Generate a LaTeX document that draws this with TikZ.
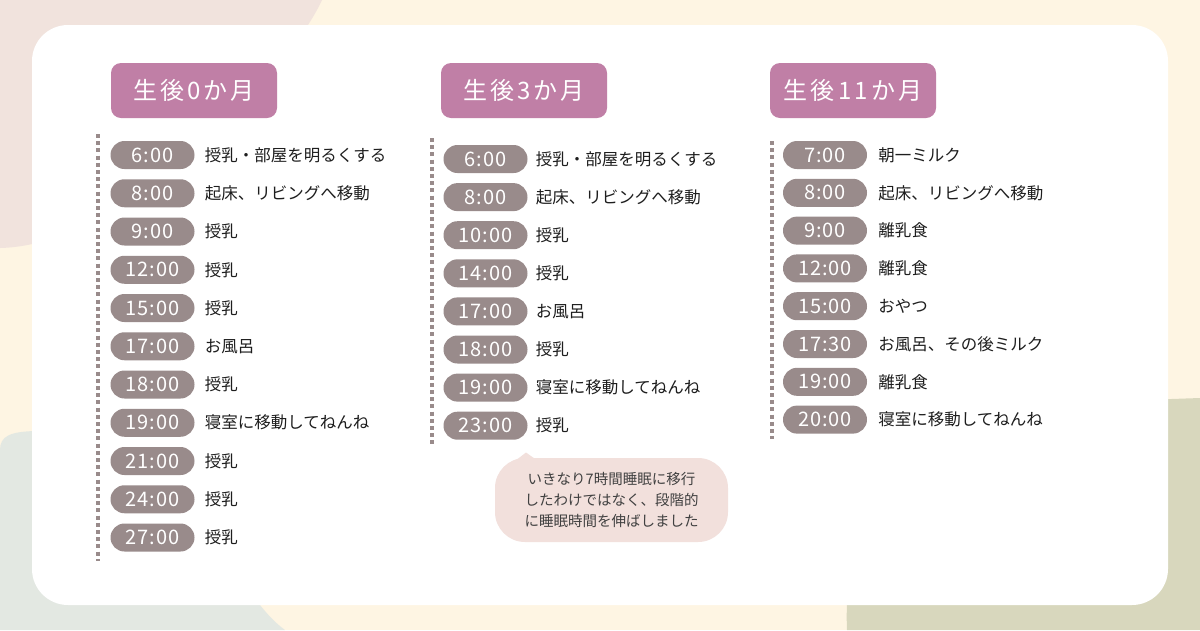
\documentclass[tikz,border=0pt]{standalone}
\usepackage{fontspec}
\setmainfont{Noto Sans CJK JP}
\usetikzlibrary{positioning}
\definecolor{bgcream}{HTML}{FEF5E3}
\definecolor{blobpink}{HTML}{F1E3DD}
\definecolor{blobsage}{HTML}{E3E8E2}
\definecolor{blobolive}{HTML}{D8D7BD}
\definecolor{titlemauve}{HTML}{C07FA6}
\definecolor{pilltaupe}{HTML}{998B8B}
\definecolor{notepink}{HTML}{F2E0DC}
\definecolor{inktext}{HTML}{1E1E1E}
\tikzset{
  month/.style={fill=titlemauve, rounded corners=10pt, minimum width=166pt, minimum height=55pt,
    inner sep=0pt, text=white, font=\fontsize{24}{28}\selectfont\addfontfeatures{LetterSpace=13}},
  clock/.style={fill=pilltaupe, rounded corners=14pt, minimum width=84pt, minimum height=28pt,
    inner sep=0pt, text=white, font=\fontsize{20}{24}\selectfont\addfontfeatures{LetterSpace=5}},
  act/.style={text=inktext, inner sep=0pt, anchor=west, font=\fontsize{16.5}{20}\selectfont},
  rail/.style={pilltaupe, line width=4pt, dash pattern=on 4pt off 3.2pt},
  note/.style={fill=notepink, rounded corners=30pt, minimum width=233pt, minimum height=84pt,
    align=center, text=inktext!85, font=\fontsize{14.5}{21}\selectfont}
}
\begin{document}
\begin{tikzpicture}[x=1pt,y=-1pt]
\useasboundingbox (0,0) rectangle (1200,630);
% background
\fill[bgcream] (0,0) rectangle (1200,630);
\fill[blobpink] (0,0) -- (322,0) .. controls (290,70) and (130,245) .. (0,248) -- cycle;
\fill[blobsage] (0,630) -- (0,450) .. controls (0,436) and (10,431) .. (40,431) -- (140,431)
  .. controls (200,470) and (230,590) .. (285,630) -- cycle;
\fill[blobolive] (847,630) .. controls (843,540) and (880,420) .. (1000,405) -- (1200,398) -- (1200,630) -- cycle;
\fill[white, rounded corners=36pt] (32,25) rectangle (1168,605);

% 0 months
\node[month] (m1) at (194,90.5) {生後0か月};
\coordinate (r1a) at (98,134);
\coordinate (r1b) at (98,561);
\draw[rail] (r1a) -- (r1b);
\foreach \hh/\txt [count=\i] in {6:00/授乳・部屋を明るくする, 8:00/起床、リビングへ移動, 9:00/授乳,
    12:00/授乳, 15:00/授乳, 17:00/お風呂, 18:00/授乳, 19:00/寝室に移動してねんね,
    21:00/授乳, 24:00/授乳, 27:00/授乳} {
  \node[clock] (p1-\i) at (152.5,{155+38.25*(\i-1)}) {\hh};
  \node[act, right=10pt of p1-\i] (a1-\i) {\txt};
}

% 3 months
\node[month] (m2) at (524,90.5) {生後3か月};
\coordinate (r2a) at (432,138);
\coordinate (r2b) at (432,445);
\draw[rail] (r2a) -- (r2b);
\foreach \hh/\txt [count=\i] in {6:00/授乳・部屋を明るくする, 8:00/起床、リビングへ移動, 10:00/授乳,
    14:00/授乳, 17:00/お風呂, 18:00/授乳, 19:00/寝室に移動してねんね, 23:00/授乳} {
  \node[clock] (p2-\i) at (485.5,{159+38.1*(\i-1)}) {\hh};
  \node[act, right=8pt of p2-\i] (a2-\i) {\txt};
}
\node[note] (tip) at (611.5,500) {いきなり7時間睡眠に移行\\したわけではなく、段階的\\に睡眠時間を伸ばしました};
\coordinate (tail) at (526,452.5);
\fill[notepink] (tail) -- (515,461) -- (538,461) -- cycle;

% 11 months
\node[month] (m3) at (853,90.5) {生後11か月};
\coordinate (r3a) at (772,141);
\coordinate (r3b) at (772,439);
\draw[rail] (r3a) -- (r3b);
\foreach \hh/\txt [count=\i] in {7:00/朝一ミルク, 8:00/起床、リビングへ移動, 9:00/離乳食,
    12:00/離乳食, 15:00/おやつ, 17:30/お風呂、その後ミルク, 19:00/離乳食, 20:00/寝室に移動してねんね} {
  \node[clock] (p3-\i) at (825,{155+37.8*(\i-1)}) {\hh};
  \node[act, right=11pt of p3-\i] (a3-\i) {\txt};
}
\end{tikzpicture}
\end{document}
